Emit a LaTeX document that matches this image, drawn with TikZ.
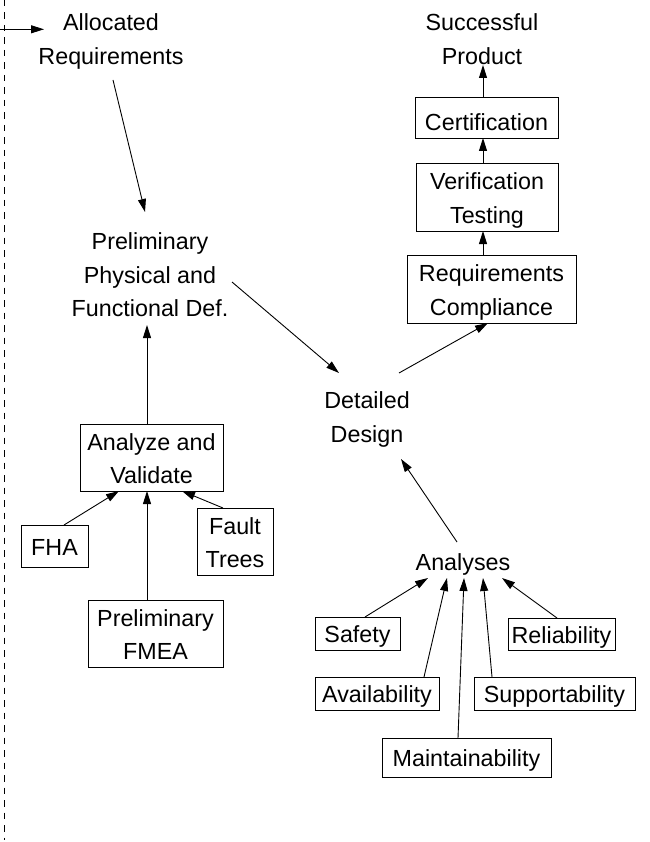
\documentclass[tikz,border=0pt]{standalone}
\usepackage{fontspec}
\setmainfont{Liberation Sans}
\usetikzlibrary{arrows.meta}

% Centred stack of lines whose box is trimmed to cap height on top and the
% last baseline at the bottom, so the lettering sits optically centred.
\newcommand\lns[1]{%
  \setbox0=\vtop{\halign{\hfil##\vrule height .75em depth .3em width 0pt\hfil\cr#1\crcr}}%
  \ht0=.7em \dp0=\dimexpr\dp0-.3em\relax \box0}

\tikzset{
  lbl/.style={inner sep=0pt, outer sep=0pt, font=\fontsize{23.3}{33.5}\selectfont},
  bx/.style={lbl, draw, line width=0.9pt},
  arr/.style={line width=0.9pt, -{Triangle[length=13pt,width=8pt]}},
  feedline/.style={line width=1pt, dash pattern=on 6.5pt off 6pt}
}

\begin{document}
\begin{tikzpicture}[x=1pt, y=-1pt]
\useasboundingbox (0,0) rectangle (649,842);

% input boundary
\coordinate (top) at (4,0);
\coordinate (bottom) at (4,840);
\coordinate (feed) at (0,29.3);
\draw[feedline] (top) -- (bottom);

% requirements and definition
\node[lbl] (alloc) at (111,38) {\lns{Allocated\cr Requirements}};
\node[lbl] (prelim) at (150,274) {\lns{Preliminary\cr Physical and\cr Functional Def.}};
\node[lbl] (detailed) at (367,416) {\lns{Detailed\cr Design}};
\node[lbl] (analyses) at (463,561) {\lns{Analyses}};
\node[lbl] (product) at (482,38) {\lns{Successful\cr Product}};

% left branch
\node[bx, minimum width=143pt, minimum height=67pt] (analyze) at (151.5,457.5) {\lns{Analyze and\cr Validate}};
\node[bx, minimum width=67pt, minimum height=42pt] (fha) at (54.5,546) {\lns{FHA}};
\node[bx, minimum width=76pt, minimum height=67pt] (fault) at (235,541.5) {\lns{Fault\cr Trees}};
\node[bx, minimum width=135pt, minimum height=67pt] (pfmea) at (155.5,633.5) {\lns{Preliminary\cr FMEA}};

% right column
\node[bx, minimum width=169pt, minimum height=68pt] (reqc) at (491.5,289) {\lns{Requirements\cr Compliance}};
\node[bx, minimum width=142pt, minimum height=68pt] (vert) at (487,197) {\lns{Verification\cr Testing}};
\node[bx, minimum width=143pt, minimum height=41pt] (cert) at (486.5,117.5) {\raisebox{-4pt}[.7em][0pt]{\lns{Certification}}};

% specialty analyses
\node[bx, minimum width=85pt, minimum height=33pt] (safety) at (357.5,633.5) {\lns{Safety}};
\node[bx, minimum width=124pt, minimum height=33pt] (avail) at (377,693.5) {\lns{Availability}};
\node[bx, minimum width=169pt, minimum height=39pt] (maint) at (466.5,757.5) {\lns{Maintainability}};
\node[bx, minimum width=161pt, minimum height=33pt] (support) at (554.5,693.5) {\lns{Supportability}};
\node[bx, minimum width=107pt, minimum height=32pt] (reliab) at (561.5,634) {\lns{Reliability}};

% connectors
\draw[arr] (feed) -- ([shift={(-67,-8.7)}]alloc.center);
\draw[arr] ([shift={(2,42)}]alloc.center) -- ([shift={(-5,-62)}]prelim.center);
\draw[arr] ([shift={(82,8)}]prelim.center) -- ([shift={(-28,-43)}]detailed.center);
\draw[arr] ([shift={(32,-43)}]detailed.center) -- ([xshift=-3.5pt]reqc.south);
\draw[arr] ([xshift=-8.5pt]reqc.north) -- ([xshift=-4pt]vert.south);
\draw[arr] ([xshift=-4pt]vert.north) -- ([xshift=-3.5pt]cert.south);
\draw[arr] ([xshift=-3.5pt]cert.north) -- ([shift={(1,27)}]product.center);

\draw[arr] ([xshift=-4.5pt]analyze.north) -- ([shift={(-3,51)}]prelim.center);
\draw[arr] ([xshift=9.5pt]fha.north) -- ([xshift=-32.5pt]analyze.south);
\draw[arr] ([xshift=-12pt]fault.north) -- ([xshift=30.5pt]analyze.south);
\draw[arr] ([xshift=-8.5pt]pfmea.north) -- ([xshift=-4.5pt]analyze.south);

\draw[arr] ([shift={(-6,-19)}]analyses.center) -- ([shift={(34,43)}]detailed.center);
\draw[arr] ([xshift=7.5pt]safety.north) -- ([shift={(-35,17)}]analyses.center);
\draw[arr] ([xshift=47pt]avail.north) -- ([shift={(-16,17)}]analyses.center);
\draw[arr] ([xshift=-8.5pt]maint.north) -- ([shift={(1,17)}]analyses.center);
\draw[arr] ([xshift=-62.5pt]support.north) -- ([shift={(20,17)}]analyses.center);
\draw[arr] ([xshift=-4.5pt]reliab.north) -- ([shift={(39,17)}]analyses.center);
\end{tikzpicture}
\end{document}
